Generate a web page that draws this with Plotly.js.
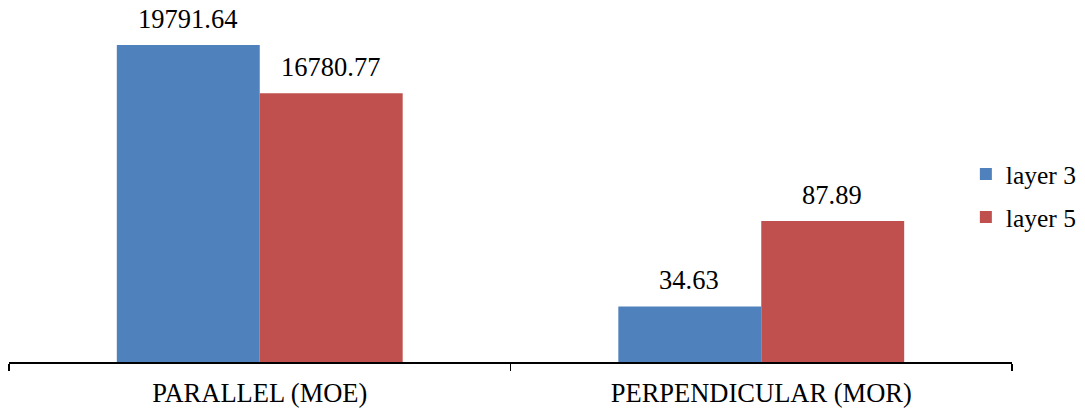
<!DOCTYPE html>
<html>
<head>
<meta charset="utf-8">
<script src="https://cdn.plot.ly/plotly-3.0.1.min.js"></script>
<style>html,body{margin:0;padding:0;background:#fff;}#chart{width:1085px;height:409px;}</style>
</head>
<body>
<div id="chart"></div>
<script>
const categories = ["PARALLEL (MOE)", "PERPENDICULAR (MOR)"];
const seriesNames = ["layer 3", "layer 5"];
const layer3 = [19791.64, 34.63];
const layer5 = [16780.77, 87.89];
const labels3 = ["19791.64", "34.63"];
const labels5 = ["16780.77", "87.89"];

const colors = ["#4F81BD", "#C0504D"];
const font = "Liberation Serif, Times New Roman, serif";
const series = [layer3, layer5];
const labelSets = [labels3, labels5];
const axesForCat = ["y", "y2"];
const barW = 0.285;
const offsets = [-barW, 0];

const traces = [];
const annotations = [];
series.forEach((vals, s) => {
  categories.forEach((cat, c) => {
    traces.push({
      type: "bar",
      x: [cat],
      y: [vals[c]],
      yaxis: axesForCat[c],
      name: seriesNames[s],
      legendgroup: seriesNames[s],
      showlegend: c === 0,
      width: barW,
      offset: offsets[s],
      marker: {color: colors[s], line: {width: 0}},
      hoverinfo: "skip"
    });
    annotations.push({
      x: cat,
      y: vals[c],
      xref: "x",
      yref: axesForCat[c],
      text: labelSets[s][c],
      showarrow: false,
      xanchor: "center",
      yanchor: "bottom",
      xshift: s === 0 ? -72 : 71,
      yshift: 9,
      font: {family: font, size: 26.5, color: "#000"}
    });
  });
});

const layout = {
  width: 1085,
  height: 409,
  margin: {l: 9, r: 73, t: 10, b: 47, autoexpand: false},
  paper_bgcolor: "#fff",
  plot_bgcolor: "rgba(0,0,0,0)",
  barmode: "overlay",
  showlegend: true,
  legend: {
    x: 0.954, xanchor: "left", y: 0.472, yanchor: "middle",
    font: {family: font, size: 25.5, color: "#000"},
    traceorder: "grouped", tracegroupgap: 7,
    bgcolor: "rgba(0,0,0,0)", itemwidth: 30
  },
  xaxis: {
    type: "category",
    range: [-0.5, 1.5],
    showline: true, linecolor: "#000", linewidth: 1.5,
    ticks: "outside", tickson: "boundaries", ticklen: 7, tickwidth: 1.5, tickcolor: "#000",
    ticklabelstandoff: 7,
    tickfont: {family: font, size: 26.5, color: "#000"},
    showgrid: false, zeroline: false
  },
  yaxis: {range: [0, 21977], visible: false, showgrid: false, zeroline: false},
  yaxis2: {range: [0, 219.4], overlaying: "y", visible: false, showgrid: false, zeroline: false},
  annotations: annotations
};

Plotly.newPlot("chart", traces, layout, {staticPlot: true, displayModeBar: false});
</script>
</body>
</html>
